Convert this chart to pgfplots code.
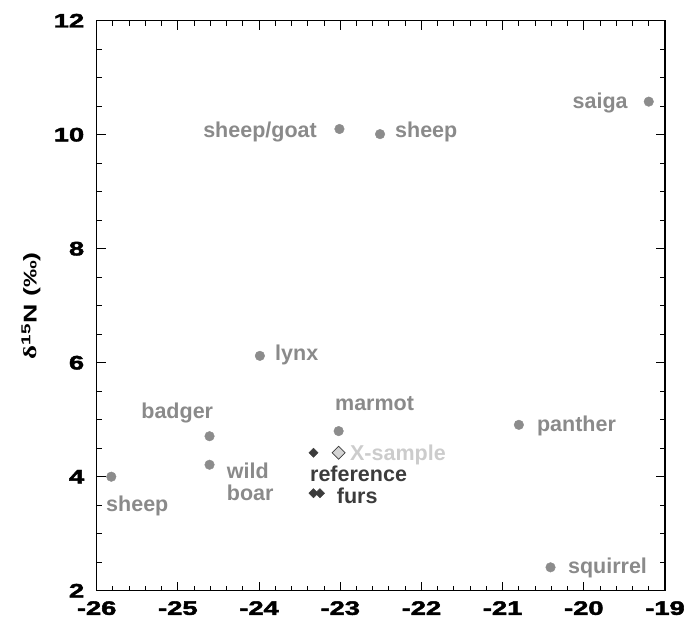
\documentclass[border=0pt]{standalone}
\usepackage{pgfplots}
\pgfplotsset{compat=1.18}
\usepackage{fontspec}
\setmainfont{Liberation Sans}
\newfontfamily\serif{Liberation Serif}
\newfontfamily\heavy[FakeBold=2]{Liberation Sans Bold}
\definecolor{lab}{HTML}{8A8A8A}
\definecolor{dotc}{HTML}{8C8C8C}
\definecolor{dark}{HTML}{3C3C3C}
\definecolor{light}{HTML}{CCCCCC}
\definecolor{xs}{HTML}{D4D4D4}
\newcommand{\tl}[1]{\scalebox{1.4}[1]{#1}}
\newcommand{\lf}{\fontsize{21.5}{21.5}\selectfont\bfseries}
\begin{document}
\begin{tikzpicture}
\begin{axis}[
  scale only axis, width=568.3pt, height=570pt,
  xmin=-26, xmax=-19, ymin=2, ymax=12,
  xtick={-26,-25,-24,-23,-22,-21,-20,-19},
  xticklabels={\tl{-26},\tl{-25},\tl{-24},\tl{-23},\tl{-22},\tl{-21},\tl{-20},\tl{-19}},
  ytick={2,4,6,8,10,12},
  yticklabels={\tl{2},\tl{4},\tl{6},\tl{8},\tl{10},\tl{12}},
  minor x tick num=4, minor y tick num=3,
  tick align=inside, major tick length=9pt, minor tick length=5pt,
  axis line style={line width=1.2pt},
  every tick/.style={black, line width=1pt},
  xticklabel style={font=\fontsize{19.5}{19.5}\selectfont\heavy, yshift=-7pt},
  yticklabel style={font=\fontsize{19.5}{19.5}\selectfont\heavy, xshift=-9pt},
  ylabel={\scalebox{1.45}[1]{{\serif δ}\textsuperscript{15}N (‰)}},
  ylabel style={at={(axis description cs:-0.1156,0.5)}, anchor=center, font=\fontsize{18.5}{18.5}\selectfont\bfseries},
  clip=false,
]
% animal samples
\addplot[only marks, mark=*, mark size=4.8pt, color=dotc, mark options={fill=dotc, draw=dotc}] coordinates {
  (-25.82,4.00) (-24.61,4.71) (-24.61,4.21) (-23.99,6.12) (-23.02,4.80)
  (-23.01,10.10) (-22.51,10.01) (-19.20,10.58) (-20.80,4.91) (-20.41,2.41)
};
% reference furs
\addplot[only marks, mark=square*, mark size=3.3pt, color=dark, mark options={rotate=45, fill=dark, draw=dark}] coordinates {
  (-23.33,4.42) (-23.33,3.71) (-23.25,3.71)
};
% X-sample
\addplot[only marks, mark=square*, mark size=4.6pt, mark options={rotate=45, fill=xs, draw=dark, line width=0.7pt}] coordinates {
  (-23.02,4.42)
};
\node[anchor=base east, font=\lf, text=lab, inner sep=0pt] at (axis cs:-23.287,9.942) {sheep/goat};
\node[anchor=base west, font=\lf, text=lab, inner sep=0pt] at (axis cs:-22.326,9.942) {sheep};
\node[anchor=base east, font=\lf, text=lab, inner sep=0pt] at (axis cs:-19.457,10.468) {saiga};
\node[anchor=base west, font=\lf, text=lab, inner sep=0pt] at (axis cs:-23.804,6.030) {lynx};
\node[anchor=base west, font=\lf, text=lab, inner sep=0pt] at (axis cs:-20.578,4.793) {panther};
\node[anchor=base west, font=\lf, text=lab, inner sep=0pt] at (axis cs:-20.196,2.305) {squirrel};
\node[anchor=base east, font=\lf, text=lab, inner sep=0pt] at (axis cs:-24.564,5.025) {badger};
\node[anchor=base west, font=\lf, text=lab, inner sep=0pt] at (axis cs:-24.399,3.972) {wild};
\node[anchor=base west, font=\lf, text=lab, inner sep=0pt] at (axis cs:-24.399,3.591) {boar};
\node[anchor=base west, font=\lf, text=lab, inner sep=0pt] at (axis cs:-25.885,3.398) {sheep};
\node[anchor=base west, font=\lf, text=lab, inner sep=0pt] at (axis cs:-23.065,5.158) {marmot};
\node[anchor=base west, font=\lf, text=light, inner sep=0pt] at (axis cs:-22.881,4.281) {X-sample};
\node[anchor=base west, font=\lf, text=dark, inner sep=0pt] at (axis cs:-23.373,3.912) {reference};
\node[anchor=base west, font=\lf, text=dark, inner sep=0pt] at (axis cs:-23.044,3.533) {furs};
\coordinate (sw) at (rel axis cs:0,0);
\coordinate (ne) at (rel axis cs:1,1);
\end{axis}
\pgfresetboundingbox
\path[use as bounding box] ([shift={(-96.7pt,-29.3pt)}]sw) rectangle ([shift={(24pt,20.7pt)}]ne);
\end{tikzpicture}
\end{document}
